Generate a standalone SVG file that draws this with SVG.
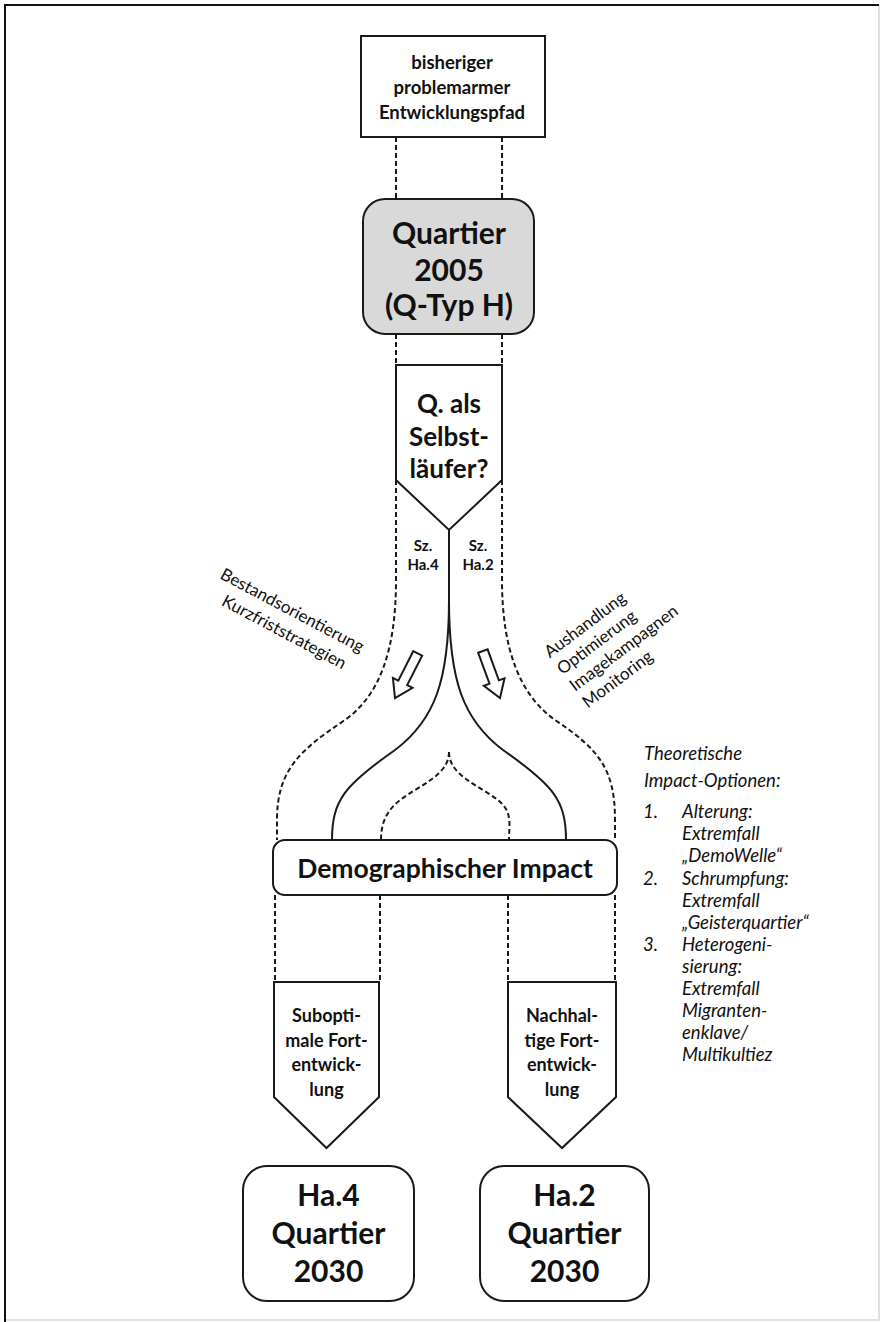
<svg xmlns="http://www.w3.org/2000/svg" width="881" height="1322" viewBox="0 0 881 1322">
<style>
.box{fill:#fff;stroke:#1a1a1a;stroke-width:2}
.grey{fill:#d9d9d9}
.dash{fill:none;stroke:#1a1a1a;stroke-width:2;stroke-dasharray:5 3}
.solid{fill:none;stroke:#1a1a1a;stroke-width:2}
.arrow{fill:#fff;stroke:#1a1a1a;stroke-width:2;stroke-linejoin:miter}
.t{font-family:Lato,'Liberation Sans',sans-serif;font-weight:bold;fill:#111;text-anchor:middle}
.it{font-family:Lato,'Liberation Sans',sans-serif;font-style:italic;fill:#111;font-size:18.5px}
.rot{font-family:Lato,'Liberation Sans',sans-serif;fill:#111;font-size:17px}
</style>
<rect width="881" height="1322" fill="#fff"/>
<path d="M879,5 V1320 H5" fill="none" stroke="#e0e0e0" stroke-width="2"/>
<path d="M5,1322 V5 H879" fill="none" stroke="#111" stroke-width="2"/>

<g id="connectors">
  <path class="dash" d="M396,137 V199 M502,137 V199 M396,334 V365 M502,334 V365"/>
  <path class="dash" d="M396,480 V580 C396,650 380,695 345,720 C300,750 277,770 277,820 V840"/>
  <path class="dash" d="M502,480 V580 C502,650 520,695 555,720 C600,750 615,770 615,820 V840"/>
  <path class="solid" d="M449,530 V600 C449,680 435,720 395,750 C345,785 332,800 332,840"/>
  <path class="solid" d="M449,600 C449,680 463,720 503,750 C553,785 566,800 566,840"/>
  <path class="dash" d="M449,752 C449,775 420,785 400,800 C385,812 381,825 381,840"/>
  <path class="dash" d="M449,752 C449,775 478,785 498,800 C513,812 509,825 509,840"/>
  <path class="dash" d="M275,895 V982 M380,895 V982 M508,895 V982 M615,895 V982"/>
  <polygon class="arrow" transform="translate(395,698) rotate(27)" points="-5,-50 5,-50 5,-17 11,-17 0,0 -11,-17 -5,-17"/>
  <polygon class="arrow" transform="translate(500,698) rotate(-20)" points="-5,-50 5,-50 5,-17 11,-17 0,0 -11,-17 -5,-17"/>
</g>

<g id="n-start">
  <rect class="box" x="361" y="36" width="184" height="101"/>
  <text class="t" font-size="18.5"><tspan x="452" y="69">bisheriger</tspan><tspan x="452" y="94">problemarmer</tspan><tspan x="452" y="119">Entwicklungspfad</tspan></text>
</g>

<g id="n-quartier2005">
  <rect class="box grey" x="363" y="199" width="171" height="135" rx="22"/>
  <text class="t" font-size="30"><tspan x="449" y="244">Quartier</tspan><tspan x="449" y="281">2005</tspan><tspan x="449" y="316">(Q-Typ H)</tspan></text>
</g>

<g id="n-selbstlaeufer">
  <polygon class="box" points="396,365 502,365 502,480 449,530 396,480"/>
  <text class="t" font-size="26"><tspan x="449" y="413">Q. als</tspan><tspan x="449" y="446">Selbst-</tspan><tspan x="449" y="478">läufer?</tspan></text>
</g>

<g id="l-sz">
  <text class="t" font-size="15"><tspan x="423" y="551">Sz.</tspan><tspan x="423" y="570">Ha.4</tspan></text>
  <text class="t" font-size="15"><tspan x="478" y="551">Sz.</tspan><tspan x="478" y="570">Ha.2</tspan></text>
</g>

<g id="l-left" transform="translate(292,611) rotate(28)">
  <text class="rot" text-anchor="middle" x="0" y="5">Bestandsorientierung</text>
  <text class="rot" text-anchor="middle" x="3" y="28">Kurzfriststrategien</text>
</g>

<g id="l-right" transform="translate(550,652) rotate(-37)">
  <text class="rot" x="-4" y="5">Aushandlung</text>
  <text class="rot" x="-4" y="26">Optimierung</text>
  <text class="rot" x="-4" y="47">Imagekampagnen</text>
  <text class="rot" x="-4" y="68">Monitoring</text>
</g>

<g id="n-impact">
  <rect class="box" x="273" y="840" width="344" height="55" rx="12"/>
  <text class="t" font-size="26.5" x="445" y="878">Demographischer Impact</text>
</g>

<g id="l-options">
  <text class="it"><tspan x="644" y="760">Theoretische</tspan><tspan x="644" y="787">Impact-Optionen:</tspan></text>
  <text class="it"><tspan x="643" y="818">1.</tspan><tspan x="682" y="818">Alterung:</tspan><tspan x="682" y="840">Extremfall</tspan><tspan x="682" y="862">„DemoWelle“</tspan></text>
  <text class="it"><tspan x="643" y="885">2.</tspan><tspan x="682" y="885">Schrumpfung:</tspan><tspan x="682" y="907">Extremfall</tspan><tspan x="682" y="929">„Geisterquartier“</tspan></text>
  <text class="it"><tspan x="643" y="951">3.</tspan><tspan x="682" y="951">Heterogeni-</tspan><tspan x="682" y="973">sierung:</tspan><tspan x="682" y="995">Extremfall</tspan><tspan x="682" y="1017">Migranten-</tspan><tspan x="682" y="1039">enklave/</tspan><tspan x="682" y="1061">Multikultiez</tspan></text>
</g>

<g id="n-suboptimal">
  <polygon class="box" points="274,982 379,982 379,1097 326.5,1148 274,1097"/>
  <text class="t" font-size="18"><tspan x="326.5" y="1022">Subopti-</tspan><tspan x="326.5" y="1047">male Fort-</tspan><tspan x="326.5" y="1071">entwick-</tspan><tspan x="326.5" y="1096">lung</tspan></text>
</g>

<g id="n-nachhaltig">
  <polygon class="box" points="508,982 616,982 616,1097 562,1148 508,1097"/>
  <text class="t" font-size="18"><tspan x="562" y="1022">Nachhal-</tspan><tspan x="562" y="1047">tige Fort-</tspan><tspan x="562" y="1071">entwick-</tspan><tspan x="562" y="1096">lung</tspan></text>
</g>

<g id="n-ha4">
  <rect class="box" x="243" y="1166" width="171" height="135" rx="24"/>
  <text class="t" font-size="30"><tspan x="328.5" y="1206">Ha.4</tspan><tspan x="328.5" y="1244">Quartier</tspan><tspan x="328.5" y="1282">2030</tspan></text>
</g>

<g id="n-ha2">
  <rect class="box" x="480" y="1166" width="169" height="135" rx="24"/>
  <text class="t" font-size="30"><tspan x="564.5" y="1206">Ha.2</tspan><tspan x="564.5" y="1244">Quartier</tspan><tspan x="564.5" y="1282">2030</tspan></text>
</g>
</svg>
